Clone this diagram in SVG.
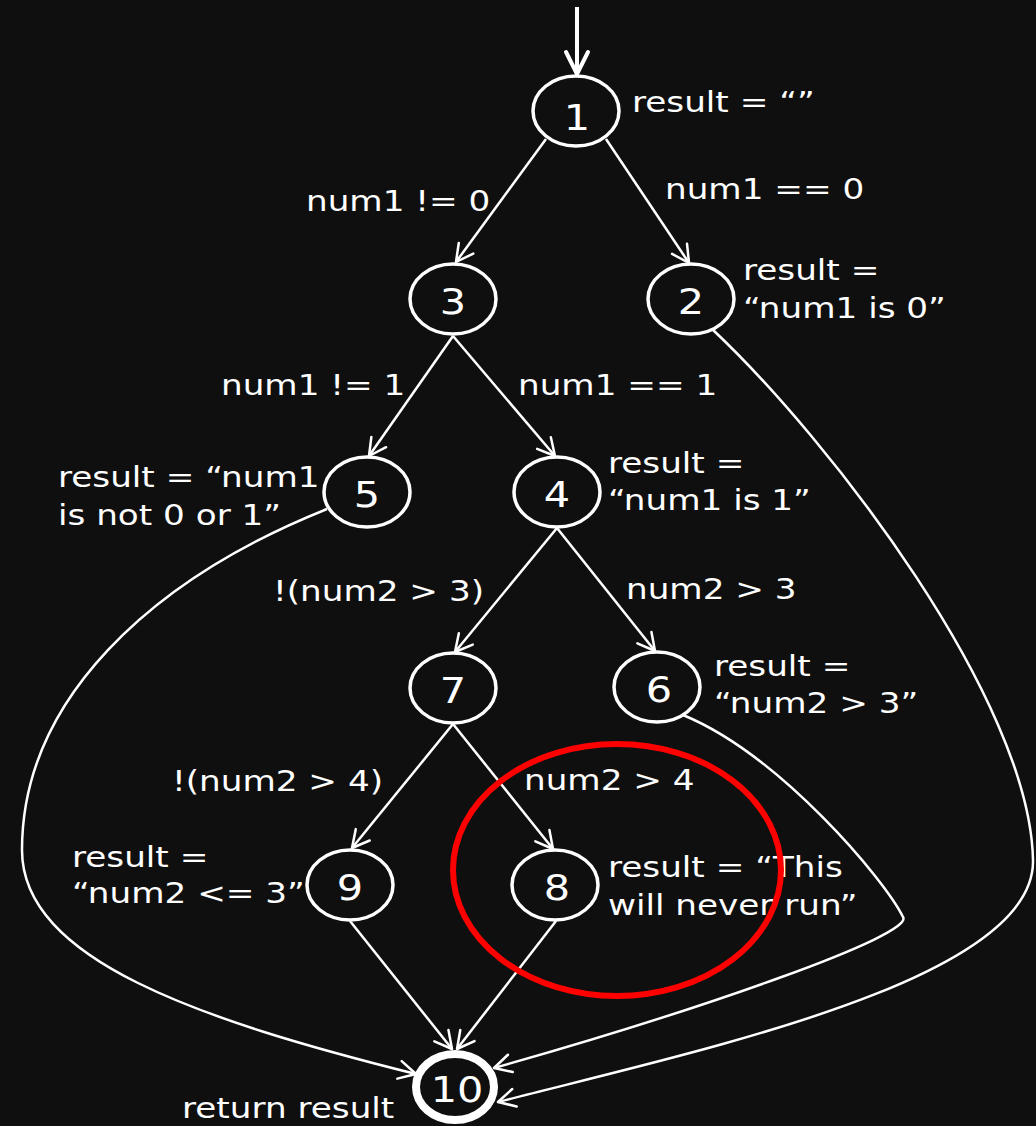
<svg xmlns="http://www.w3.org/2000/svg" width="1036" height="1126" viewBox="0 0 1036 1126">
<defs>
<style>
.bg{fill:#0f0f0f}
.node{fill:none;stroke:#fff;stroke-width:3.5}
.node.thick{stroke-width:8}
.num{fill:#fff;font-family:"DejaVu Sans",Verdana,sans-serif;font-size:36px;text-anchor:middle}
.lbl{fill:#fff;font-family:"DejaVu Sans",Verdana,sans-serif;font-size:29px}
.edge{fill:none;stroke:#fff;stroke-width:2.5}
.start{fill:none;stroke:#fff;stroke-width:4}
.mark{fill:none;stroke:#ff0000;stroke-width:6}
</style>
<marker id="arr" markerUnits="userSpaceOnUse" markerWidth="40" markerHeight="40" refX="0" refY="0" orient="auto" overflow="visible">
<path d="M-17,-9 L0,0 L-17,9" fill="none" stroke="#fff" stroke-width="2.5" stroke-linecap="round" stroke-linejoin="round"/>
</marker>
<marker id="arrBig" markerUnits="userSpaceOnUse" markerWidth="50" markerHeight="50" refX="0" refY="0" orient="auto" overflow="visible">
<path d="M-22,-11 L0,0 L-22,11" fill="none" stroke="#fff" stroke-width="4" stroke-linecap="round" stroke-linejoin="round"/>
</marker>
</defs>
<rect class="bg" x="0" y="0" width="1036" height="1126"/>

<g id="connectors">
<line class="start" x1="577" y1="7" x2="577" y2="74" marker-end="url(#arrBig)"/>
<line class="edge" x1="546" y1="139" x2="456" y2="262" marker-end="url(#arr)"/>
<line class="edge" x1="606" y1="139" x2="689" y2="263" marker-end="url(#arr)"/>
<line class="edge" x1="453" y1="336" x2="369" y2="456" marker-end="url(#arr)"/>
<line class="edge" x1="453" y1="336" x2="555" y2="456" marker-end="url(#arr)"/>
<line class="edge" x1="557" y1="528" x2="455" y2="652" marker-end="url(#arr)"/>
<line class="edge" x1="557" y1="528" x2="655" y2="651" marker-end="url(#arr)"/>
<line class="edge" x1="453" y1="724" x2="352" y2="848" marker-end="url(#arr)"/>
<line class="edge" x1="453" y1="724" x2="553" y2="849" marker-end="url(#arr)"/>
<line class="edge" x1="350" y1="921" x2="452" y2="1049" marker-end="url(#arr)"/>
<line class="edge" x1="556" y1="921" x2="457" y2="1049" marker-end="url(#arr)"/>
<path class="edge" d="M327,509 C150,580 22,700 22,850 C22,960 200,1020 416,1074" marker-end="url(#arr)"/>
<path class="edge" d="M683,715 C780,755 885,880 903,917 C915,935 700,1010 494,1068" marker-end="url(#arr)"/>
<path class="edge" d="M712,329 C830,440 1030,700 1033,860 C1036,980 700,1050 498,1102" marker-end="url(#arr)"/>
</g>

<g id="node1"><ellipse class="node" cx="576" cy="111" rx="43" ry="35"/><text class="num" transform="matrix(1.15 0 0 1 577 130)">1</text></g>
<g id="node2"><ellipse class="node" cx="691" cy="299" rx="43" ry="35"/><text class="num" transform="matrix(1.15 0 0 1 691 314)">2</text></g>
<g id="node3"><ellipse class="node" cx="453" cy="299" rx="43" ry="35"/><text class="num" transform="matrix(1.15 0 0 1 453 314)">3</text></g>
<g id="node4"><ellipse class="node" cx="557" cy="492" rx="43" ry="35"/><text class="num" transform="matrix(1.15 0 0 1 557 507)">4</text></g>
<g id="node5"><ellipse class="node" cx="367" cy="492" rx="43" ry="35"/><text class="num" transform="matrix(1.15 0 0 1 367 507)">5</text></g>
<g id="node6"><ellipse class="node" cx="657" cy="687" rx="43" ry="35"/><text class="num" transform="matrix(1.15 0 0 1 659 702)">6</text></g>
<g id="node7"><ellipse class="node" cx="453" cy="688" rx="43" ry="35"/><text class="num" transform="matrix(1.15 0 0 1 453 703)">7</text></g>
<g id="node8"><ellipse class="node" cx="555" cy="885" rx="43" ry="35"/><text class="num" transform="matrix(1.15 0 0 1 557 900)">8</text></g>
<g id="node9"><ellipse class="node" cx="350" cy="885" rx="43" ry="35"/><text class="num" transform="matrix(1.15 0 0 1 350 900)">9</text></g>
<g id="node10"><ellipse class="node thick" cx="455" cy="1087" rx="39" ry="33"/><text class="num" transform="matrix(1.15 0 0 1 457 1102)">10</text></g>

<g id="labels">
<text class="lbl" transform="matrix(1.18 0 0 1 632 112)">result = “”</text>
<text class="lbl" transform="matrix(1.18 0 0 1 306 211)">num1 != 0</text>
<text class="lbl" transform="matrix(1.18 0 0 1 665 199)">num1 == 0</text>
<text class="lbl" transform="matrix(1.18 0 0 1 743 280)">result =<tspan x="0" y="38">“num1 is 0”</tspan></text>
<text class="lbl" transform="matrix(1.18 0 0 1 221 395)">num1 != 1</text>
<text class="lbl" transform="matrix(1.18 0 0 1 518 395)">num1 == 1</text>
<text class="lbl" transform="matrix(1.18 0 0 1 58 487)">result = “num1<tspan x="0" y="38">is not 0 or 1”</tspan></text>
<text class="lbl" transform="matrix(1.18 0 0 1 608 473)">result =<tspan x="0" y="37">“num1 is 1”</tspan></text>
<text class="lbl" transform="matrix(1.18 0 0 1 273 601)">!(num2 &gt; 3)</text>
<text class="lbl" transform="matrix(1.18 0 0 1 626 599)">num2 &gt; 3</text>
<text class="lbl" transform="matrix(1.18 0 0 1 714 676)">result =<tspan x="0" y="37">“num2 &gt; 3”</tspan></text>
<text class="lbl" transform="matrix(1.18 0 0 1 172 791)">!(num2 &gt; 4)</text>
<text class="lbl" transform="matrix(1.18 0 0 1 524 790)">num2 &gt; 4</text>
<text class="lbl" transform="matrix(1.18 0 0 1 72 867)">result =<tspan x="0" y="36">“num2 &lt;= 3”</tspan></text>
<text class="lbl" transform="matrix(1.18 0 0 1 608 877)">result = “This<tspan x="0" y="38">will never run”</tspan></text>
<text class="lbl" transform="matrix(1.18 0 0 1 182 1118)">return result</text>
</g>

<ellipse id="highlight" class="mark" cx="617" cy="870" rx="164" ry="126"/>
</svg>
